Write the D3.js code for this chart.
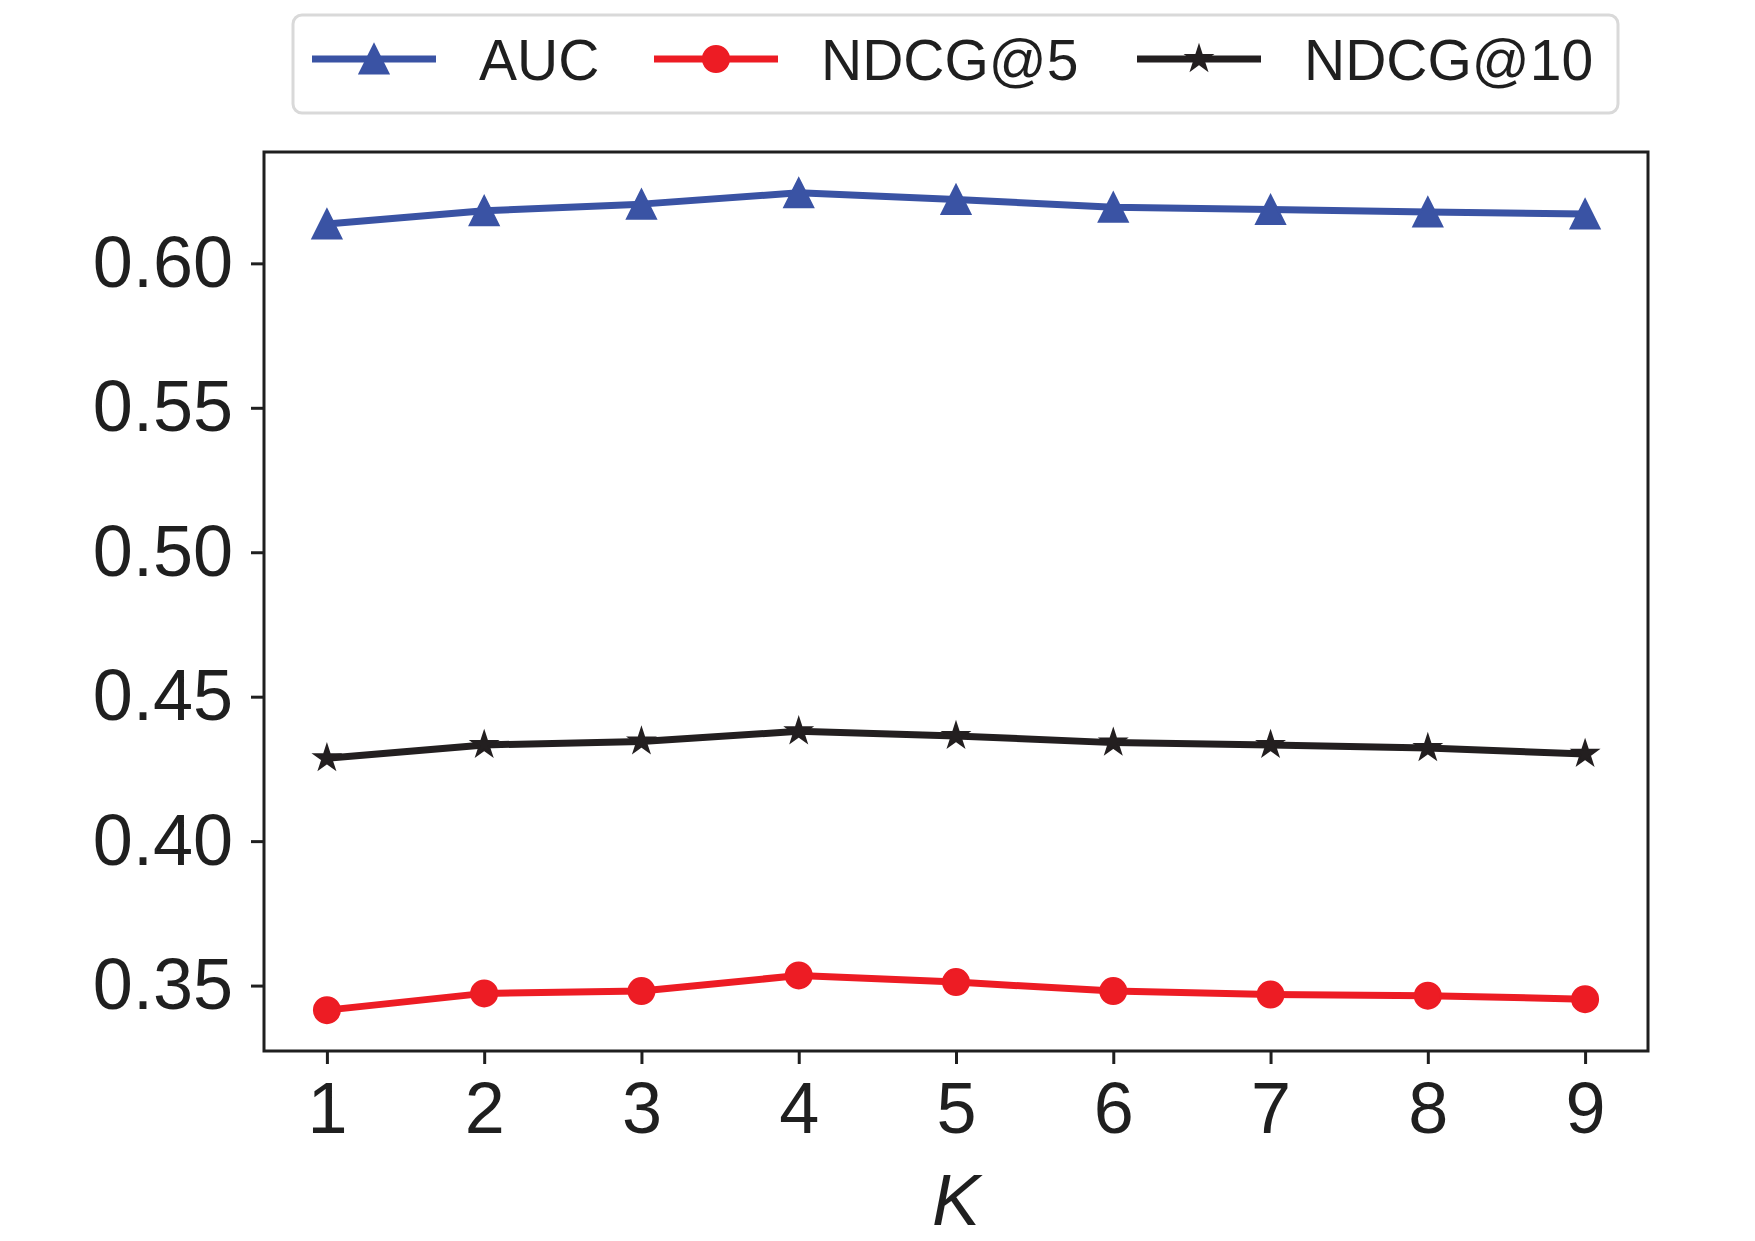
<!DOCTYPE html>
<html>
<head>
<meta charset="utf-8">
<script src="https://cdn.jsdelivr.net/npm/d3@7"></script>
<style>
  body { margin: 0; background: #fff; }
  text { font-family: "Liberation Sans", Arial, Helvetica, sans-serif; fill: #1f1f1f; }
</style>
</head>
<body>
<div id="chart"></div>
<script>
// data
const kValues = [1, 2, 3, 4, 5, 6, 7, 8, 9]
const auc = [0.6136, 0.6182, 0.6205, 0.6244, 0.6221, 0.6194, 0.6186, 0.6178, 0.6171]
const ndcg5 = [0.3415, 0.3473, 0.3481, 0.3535, 0.3512, 0.3481, 0.3469, 0.3465, 0.3453]
const ndcg10 = [0.4287, 0.4333, 0.4345, 0.4380, 0.4364, 0.4341, 0.4333, 0.4322, 0.4302]
const yTicks = [0.35, 0.40, 0.45, 0.50, 0.55, 0.60]
const seriesNames = ['AUC', 'NDCG@5', 'NDCG@10']

const W = 1755
const H = 1241
const margin = { t: 152, r: 107, b: 190, l: 264 }
const innerWidth = W - margin.l - margin.r
const innerHeight = H - margin.t - margin.b

// matplotlib-like triangle (width == height)
const triangle = {
  draw(context, size) {
    const h = Math.sqrt(size) / 2
    context.moveTo(0, -h)
    context.lineTo(h, h)
    context.lineTo(-h, h)
    context.closePath()
  }
}

const series = [
  { name: seriesNames[0], values: auc, color: '#3a53a4', symbol: d3.symbol().type(triangle).size(29 * 29) },
  { name: seriesNames[1], values: ndcg5, color: '#ed1c24', symbol: d3.symbol().type(d3.symbolCircle).size(Math.PI * 13 * 13) },
  { name: seriesNames[2], values: ndcg10, color: '#231f20', symbol: d3.symbol().type(d3.symbolStar).size(190) }
]

// axis limits with 5% padding, as matplotlib does
const allVals = auc.concat(ndcg5, ndcg10)
const yMin = d3.min(allVals), yMax = d3.max(allVals)
const yPad = (yMax - yMin) * 0.05
const xPad = (d3.max(kValues) - d3.min(kValues)) * 0.05

const scaleX = d3.scaleLinear().domain([d3.min(kValues) - xPad, d3.max(kValues) + xPad]).range([0, innerWidth])
const scaleY = d3.scaleLinear().domain([yMin - yPad, yMax + yPad]).range([innerHeight, 0])

const svg = d3.select('#chart')
  .append('svg')
  .attr('width', W)
  .attr('height', H)

const plot = svg.append('g')
  .attr('transform', `translate(${margin.l}, ${margin.t})`)

const axisX = d3.axisBottom(scaleX)
  .tickValues(kValues)
  .tickFormat(d3.format('d'))
  .tickSize(13)
  .tickPadding(18)

const axisY = d3.axisLeft(scaleY)
  .tickValues(yTicks)
  .tickFormat(d3.format('.2f'))
  .tickSize(13)
  .tickPadding(18)

const gx = plot.append('g')
  .attr('transform', `translate(0, ${innerHeight})`)
  .call(axisX)

const gy = plot.append('g')
  .call(axisY)

for (const g of [gx, gy]) {
  g.attr('font-size', null).attr('font-family', null)
  g.select('.domain').remove()
  g.selectAll('.tick line').attr('stroke', '#1f1f1f').attr('stroke-width', 3)
  g.selectAll('.tick text')
    .style('font-size', '72px')
    .attr('fill', '#1f1f1f')
}

// lines + markers
const line = d3.line()
  .x((d, i) => scaleX(kValues[i]))
  .y(d => scaleY(d))

series.forEach(s => {
  plot.append('path')
    .datum(s.values)
    .attr('fill', 'none')
    .attr('stroke', s.color)
    .attr('stroke-width', 7)
    .attr('stroke-linejoin', 'round')
    .attr('d', line)

  plot.selectAll(null)
    .data(s.values)
    .enter()
    .append('path')
    .attr('transform', (d, i) => `translate(${scaleX(kValues[i])}, ${scaleY(d)})`)
    .attr('d', s.symbol())
    .attr('fill', s.color)
    .attr('stroke', s.color)
    .attr('stroke-width', 2)
    .attr('stroke-linejoin', 'miter')
})

// frame
plot.append('rect')
  .attr('width', innerWidth)
  .attr('height', innerHeight)
  .attr('fill', 'none')
  .attr('stroke', '#1f1f1f')
  .attr('stroke-width', 3)

// x label
svg.append('text')
  .attr('x', margin.l + innerWidth / 2)
  .attr('y', 1225)
  .attr('text-anchor', 'middle')
  .style('font-size', '72px')
  .style('font-style', 'italic')
  .text('K')

// legend
const legend = svg.append('g')
legend.append('rect')
  .attr('x', 293)
  .attr('y', 15)
  .attr('width', 1325)
  .attr('height', 98)
  .attr('rx', 9)
  .attr('fill', '#fff')
  .attr('stroke', '#d9d9d9')
  .attr('stroke-width', 3)

const legendX = [312, 654, 1137]
series.forEach((s, i) => {
  const g = legend.append('g').attr('transform', `translate(${legendX[i]}, 59)`)
  g.append('line')
    .attr('x1', 0).attr('x2', 124)
    .attr('stroke', s.color)
    .attr('stroke-width', 7)
  g.append('path')
    .attr('transform', 'translate(62, 0)')
    .attr('d', s.symbol())
    .attr('fill', s.color)
    .attr('stroke', s.color)
    .attr('stroke-width', 2)
  g.append('text')
    .attr('x', 167)
    .attr('y', 21)
    .style('font-size', '57px')
    .text(s.name)
})
</script>
</body>
</html>
